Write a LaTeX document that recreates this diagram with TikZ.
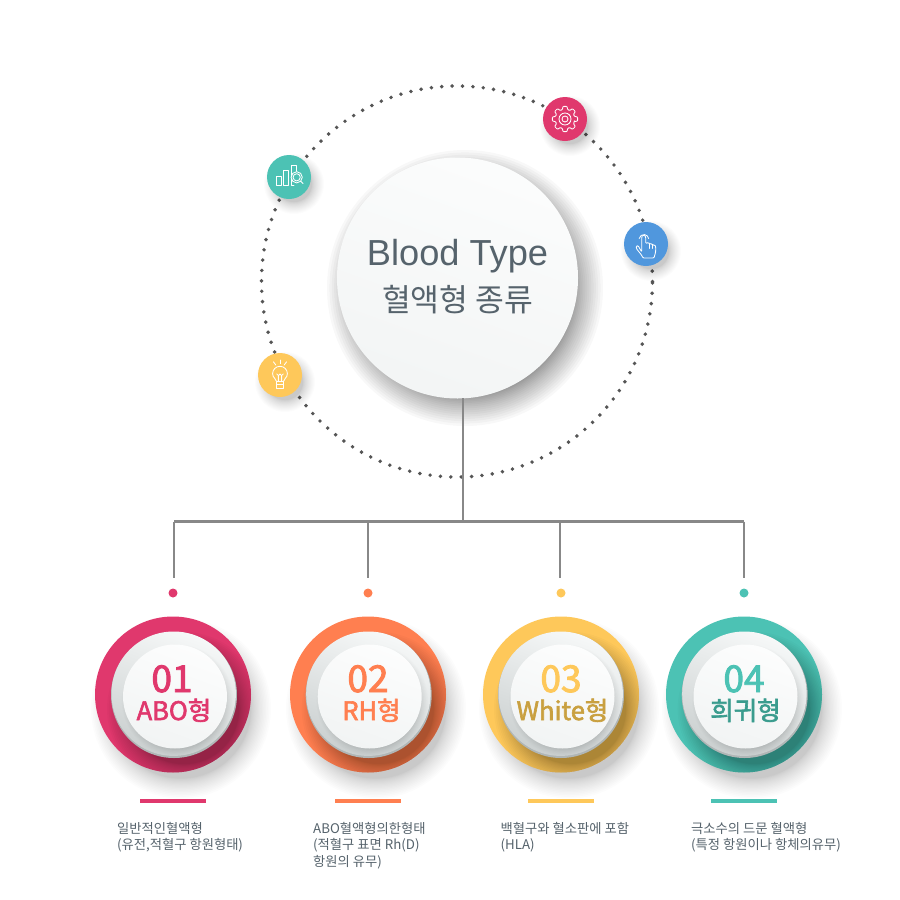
\documentclass[tikz,border=0pt]{standalone}
\usepackage{fontspec}
\setmainfont{Noto Sans CJK KR}
\newfontfamily\semifont[FakeBold=2.4]{Noto Sans CJK KR}
\newfontfamily\titlefont{Liberation Sans}
\definecolor{cpink}{HTML}{E0386D}
\definecolor{corange}{HTML}{FF7F50}
\definecolor{cyellow}{HTML}{FEC85A}
\definecolor{cteal}{HTML}{4CC2B4}
\definecolor{cblue}{HTML}{5097DD}
\definecolor{ltyellow}{HTML}{C9A040}
\definecolor{ltteal}{HTML}{3A9C8E}
\definecolor{txt}{HTML}{56636C}
\definecolor{dotc}{HTML}{555555}
\definecolor{linec}{HTML}{888888}
\definecolor{bulkA}{HTML}{F6F8F8}
\definecolor{bulkB}{HTML}{CBD0D0}
\definecolor{rimc}{HTML}{B0B6B6}
\tikzset{
  x=1pt,y=-1pt,
  conn/.style={draw=linec,line width=2.2pt},
  descr/.style={anchor=north west,inner sep=0pt,align=left,text=txt,font=\fontsize{13.3}{16.6}\selectfont},
  numtext/.style={anchor=base,inner sep=0pt,font=\semifont\fontsize{37}{37}\selectfont},
  labtext/.style={anchor=base,inner sep=0pt,font=\semifont\fontsize{25.5}{25.5}\selectfont},
  enddot/.style={circle,inner sep=0pt,minimum size=9pt},
  badge/.style={circle,inner sep=0pt,minimum size=44pt},
  ico/.style={draw=white,line width=.85pt,line join=round,line cap=round},
  bar/.style={line width=3.6pt},
}
% soft shadow: centre x, y, radius, spread, opacity of each layer
\newcommand{\softshade}[5]{%
  \foreach \i in {0,...,17}{%
    \pgfmathsetmacro{\rr}{#3+#4*(1-\i/17)^1.4}%
    \fill[black,opacity=#5] (#1,#2) circle[radius=\rr pt];%
  }%
}
% button: id, ring x, mid x, inner x, colour
\newcommand{\ringbtn}[5]{%
  \softshade{#2+8}{694.5+14}{70}{20}{0.011}
  \node[circle,fill=#5,inner sep=0pt,minimum size=156pt] (ring#1) at (#2,694.5) {};
  \begin{scope}
    \clip (#2,694.5) circle[radius=78pt];
    \softshade{#3+10}{695+14}{55}{22}{0.02}
  \end{scope}
  \fill[rimc] (#3,695) circle[radius=63pt];
  \shade[top color=bulkA,bottom color=bulkB,shading angle=-20] (#3-.3,695-1.3) circle[radius=62.2pt];
  \begin{scope}
    \clip (#3-.3,695-1.3) circle[radius=62.2pt];
    \softshade{#4+2.5}{696.5+4}{47}{9}{0.006}
  \end{scope}
  \shade[top color=white!70!bulkA,bottom color=bulkA!90!bulkB,shading angle=-20] (#4,696.5) circle[radius=52pt];
}
\begin{document}
\begin{tikzpicture}
\useasboundingbox (0,0) rectangle (900,900);
\fill[white] (0,0) rectangle (900,900);

% dotted orbit
\draw[dotc,line width=3.9pt,line cap=round,dash pattern=on 0pt off 10.4pt] (457,281.5) circle[radius=195.5pt];

% hub
\softshade{465}{288}{108}{30}{0.027}
\node[circle,inner sep=0pt,minimum size=241pt,top color=white!60!bulkA,bottom color=bulkA!92!bulkB,shading angle=-20] (hub) at (457.5,278) {};
\node[anchor=base,inner sep=0pt,text=txt,font=\titlefont\fontsize{36.2}{36.2}\selectfont] (title) at (457.5,265) {Blood Type};
\node[anchor=base,inner sep=0pt,text=txt,font=\fontsize{31.3}{31.3}\selectfont] (subtitle) at (457.5,311) {혈액형 종류};

% connectors
\coordinate (stem) at (463,398);
\coordinate (bus) at (463,521.5);
\coordinate (b1) at (174,521.5);
\coordinate (b2) at (368,521.5);
\coordinate (b3) at (560,521.5);
\coordinate (b4) at (744,521.5);
\coordinate (t1) at (174,578);
\coordinate (t2) at (368,578);
\coordinate (t3) at (560,578);
\coordinate (t4) at (744,578);
\draw[conn] (stem) -- (bus);
\draw[conn,line cap=square] (b1) -- (b4);
\draw[conn] (b1) -- (t1);
\draw[conn] (b2) -- (t2);
\draw[conn] (b3) -- (t3);
\draw[conn] (b4) -- (t4);
\node[enddot,fill=cpink] (d1) at (173,593) {};
\node[enddot,fill=corange] (d2) at (368,593) {};
\node[enddot,fill=cyellow] (d3) at (561,593) {};
\node[enddot,fill=cteal] (d4) at (744,593) {};

% badges
\softshade{570}{126}{18}{12}{0.01}
\softshade{651}{251}{18}{12}{0.01}
\softshade{294}{184}{18}{12}{0.01}
\softshade{285}{382}{18}{12}{0.01}
\node[badge,fill=cpink] (gear) at (565,119) {};
\node[badge,fill=cblue] (hand) at (646,244) {};
\node[badge,fill=cteal] (chart) at (289,177) {};
\node[badge,fill=cyellow] (bulb) at (280,375) {};

% gear icon
\begin{scope}[shift={(565,119)}]
  \draw[ico,rounded corners=.8pt] (-16:9.7pt)
    \foreach \a in {0,45,...,315}{ -- (\a-16:9.7pt) -- (\a-9:12.8pt) -- (\a+9:12.8pt) -- (\a+16:9.7pt)} -- cycle;
  \draw[ico] (0,0) circle[radius=6pt];
  \draw[ico] (0,0) circle[radius=3pt];
\end{scope}

% hand icon
\draw[ico,rounded corners=1pt] (641.7,252) -- (641.7,237) -- (642.6,235.2) -- (644.8,235.2) -- (645.7,237) -- (645.7,243.5)
  -- (648.6,242.4) -- (649.4,244) -- (652,243.6) -- (652.6,245.2) -- (655,245) -- (655.8,247) -- (655.6,252) -- (654,258) -- (643,258) -- (641.5,255) -- (636.3,248.5) -- (636.3,246) -- (638,245.5) -- cycle;
\draw[ico] (649,244) -- (649,248.5);
\draw[ico] (652.4,245.2) -- (652.4,248.5);
\draw[ico] (639.2,238.5) arc[start angle=170,end angle=10,radius=4.8pt];

% chart icon
\draw[ico] (276,176) rectangle (281,185);
\draw[ico] (283.3,170) rectangle (288.7,185);
\draw[ico] (296,171.5) -- (296,165.3) -- (291,165.3) -- (291,185) -- (294,185);
\fill[cteal] (296.7,177.3) circle[radius=5.6pt];
\draw[ico] (296.7,177.3) circle[radius=5.6pt];
\draw[ico] (296.7,177.3) circle[radius=3.6pt];
\draw[ico] (300.7,181.3) -- (303,183.6);

% bulb icon
\draw[ico] (276.6,381.5) .. controls (276.4,378.5) and (272.6,378) .. (272.6,373.7) arc[start angle=180,end angle=0,radius=7.4pt] .. controls (287.4,378) and (283.6,378.5) .. (283.4,381.5) -- cycle;
\draw[ico] (276.5,381.5) -- (276.5,388.3) -- (283.5,388.3) -- (283.5,381.5);
\draw[ico] (276.5,384.9) -- (283.5,384.9);
\draw[ico] (278.4,381.5) -- (278.4,375.5) -- (276.8,374);
\draw[ico] (281.6,381.5) -- (281.6,375.5) -- (283.2,374);
\draw[ico] (278.4,375.5) -- (280,374) -- (281.6,375.5);
\draw[ico] (273.4,361.8) -- (275.8,365);
\draw[ico] (280,360) -- (280,363.6);
\draw[ico] (286.6,361.8) -- (284.2,365);

% blood type buttons
\ringbtn{1}{173}{174}{175}{cpink}
\ringbtn{2}{368}{368.7}{369.7}{corange}
\ringbtn{3}{561}{561}{562.5}{cyellow}
\ringbtn{4}{744}{744.7}{745.5}{cteal}

\node[numtext,text=cpink] (n1) at (172,692) {01};
\node[labtext,text=cpink] (l1) at (174,720) {ABO형};
\node[numtext,text=corange] (n2) at (368,692) {02};
\node[labtext,text=corange] (l2) at (371.5,720) {RH형};
\node[numtext,text=cyellow] (n3) at (561,692) {03};
\node[labtext,text=ltyellow] (l3) at (562.5,720) {White형};
\node[numtext,text=cteal] (n4) at (744,692) {04};
\node[labtext,text=ltteal] (l4) at (745.5,720) {희귀형};

% accent bars
\draw[bar,cpink] (140,800.8) -- (206,800.8);
\draw[bar,corange] (335,800.8) -- (401,800.8);
\draw[bar,cyellow] (528,800.8) -- (594,800.8);
\draw[bar,cteal] (711,800.8) -- (777,800.8);

% descriptions
\node[descr] (t1a) at (117,822) {일반적인혈액형\\(유전,적혈구 항원형태)};
\node[descr] (t2a) at (313,822) {ABO혈액형의한형태\\(적혈구 표면 Rh(D)\\항원의 유무)};
\node[descr] (t3a) at (500.5,822) {백혈구와 혈소판에 포함\\(HLA)};
\node[descr] (t4a) at (691,822) {극소수의 드문 혈액형\\(특정 항원이나 항체의유무)};
\end{tikzpicture}
\end{document}
